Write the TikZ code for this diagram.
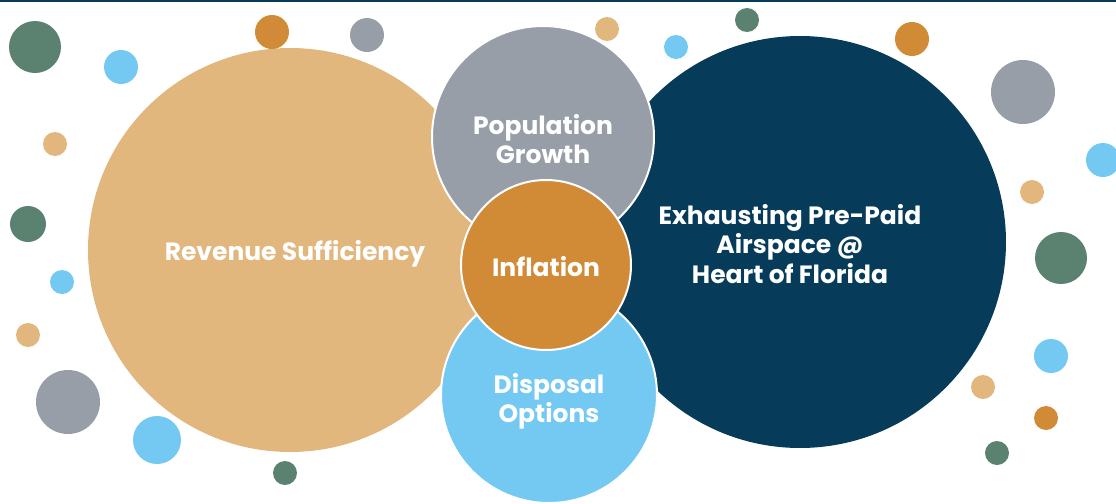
\documentclass[tikz,border=0pt]{standalone}
\usepackage{fontspec}
\setmainfont{Poppins}
\usetikzlibrary{positioning}
\definecolor{sandC}{HTML}{E2B77E}
\definecolor{navyC}{HTML}{063C5A}
\definecolor{slateC}{HTML}{979EA7}
\definecolor{skyC}{HTML}{73C9F2}
\definecolor{ochreC}{HTML}{D18B36}
\definecolor{sageC}{HTML}{5B8170}

\begin{document}
\begin{tikzpicture}[x=0.5pt, y=-0.5pt,
    bubble/.style={circle, inner sep=0pt},
    ringed/.style={bubble, draw=white, line width=1pt},
    caption/.style={text=white, align=center, inner sep=0pt,
      font=\bfseries\fontsize{12.5}{14.6}\selectfont},
    dot/.style={circle, inner sep=0pt}]
    \useasboundingbox (0,0) rectangle (1116,504);
    \fill[navyC] (0,0) rectangle (1116,1.6);

    % big circles
    \node[bubble, fill=sandC, minimum size=202] (rev) at (290,250) {};
    \node[bubble, fill=navyC, minimum size=206] (air) at (800,242) {};
    \node[ringed, fill=slateC, minimum size=111] (pop) at (543,137) {};
    \node[ringed, fill=skyC, minimum size=108] (disp) at (549,395) {};
    \node[ringed, fill=ochreC, minimum size=85] (infl) at (546,265) {};

    % texts
    \node[caption] (revT) at ([xshift=2.5pt, yshift=-2pt]rev) {Revenue Sufficiency};
    \node[caption] (airT) at ([xshift=-5pt, yshift=-1pt]air) {Exhausting Pre-Paid\\Airspace @\\Heart of Florida};
    \node[caption] (popT) at ([yshift=-1pt]pop) {Population\\Growth};
    \node[caption] (dispT) at ([yshift=-3pt]disp) {Disposal\\Options};
    \node[caption] (inflT) at ([yshift=-1pt]infl) {Inflation};

    % scattered dots
    \node[dot, fill=sageC, minimum size=26] (d1) at (35,47) {};
    \node[dot, fill=skyC, minimum size=17] (d2) at (121,67) {};
    \node[dot, fill=ochreC, minimum size=17] (d3) at (272,32) {};
    \node[dot, fill=slateC, minimum size=17] (d4) at (367,35) {};
    \node[dot, fill=sandC, minimum size=12] (d5) at (55,144) {};
    \node[dot, fill=sageC, minimum size=18] (d6) at (28,224) {};
    \node[dot, fill=skyC, minimum size=12] (d7) at (62,282) {};
    \node[dot, fill=sandC, minimum size=12] (d8) at (28,335) {};
    \node[dot, fill=slateC, minimum size=32] (d9) at (68,402) {};
    \node[dot, fill=skyC, minimum size=24] (d10) at (157,440) {};
    \node[dot, fill=sageC, minimum size=12] (d11) at (285,473) {};
    \node[dot, fill=sandC, minimum size=12] (d12) at (607,29) {};
    \node[dot, fill=skyC, minimum size=12] (d13) at (676,47) {};
    \node[dot, fill=sageC, minimum size=12] (d14) at (747,20) {};
    \node[dot, fill=ochreC, minimum size=17] (d15) at (912,39) {};
    \node[dot, fill=slateC, minimum size=32] (d16) at (1023,92) {};
    \node[dot, fill=skyC, minimum size=17] (d17) at (1103,160) {};
    \node[dot, fill=sandC, minimum size=12] (d18) at (1032,192) {};
    \node[dot, fill=sageC, minimum size=26] (d19) at (1061,258) {};
    \node[dot, fill=skyC, minimum size=17] (d20) at (1051,356) {};
    \node[dot, fill=sandC, minimum size=12] (d21) at (983,387) {};
    \node[dot, fill=ochreC, minimum size=12] (d22) at (1046,418) {};
    \node[dot, fill=sageC, minimum size=12] (d23) at (997,453) {};
\end{tikzpicture}
\end{document}
